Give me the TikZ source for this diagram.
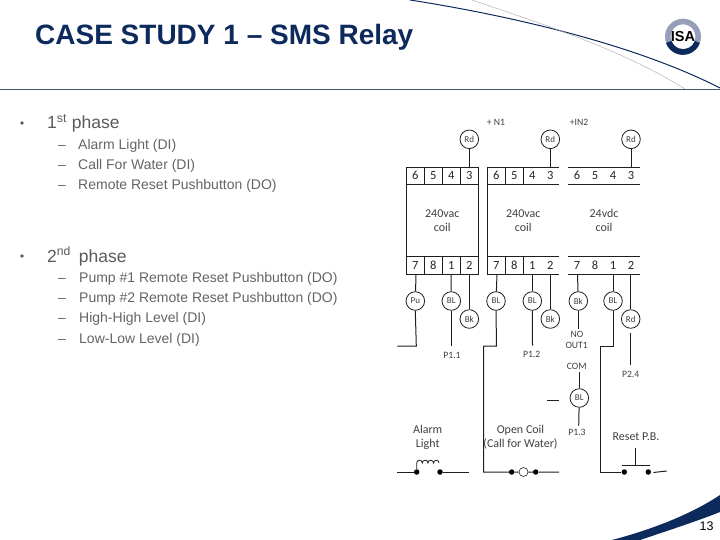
\documentclass[tikz,border=0pt]{standalone}
\usepackage{fontspec}
\setmainfont{Liberation Sans}
\newfontfamily\lab{Carlito}
\definecolor{navy}{RGB}{12,42,92}
\definecolor{rulec}{RGB}{70,85,105}
\definecolor{txt}{RGB}{90,90,90}
\definecolor{txtb}{RGB}{100,100,100}
\definecolor{wire}{RGB}{30,30,30}
\definecolor{ringc}{RGB}{150,158,185}
\tikzset{
 wirel/.style={draw=wire,line width=1pt},
 term/.style={circle,draw=wire,line width=0.8pt,minimum size=18.6pt,inner sep=0pt,font=\lab\fontsize{9}{9}\selectfont,text=black!75,fill=white},
 num/.style={font=\lab\fontsize{12.5}{13}\selectfont,inner sep=0pt,text=black!85,text height=8pt,text depth=0pt},
 small/.style={font=\lab\fontsize{9.7}{10}\selectfont,inner sep=0pt,text=black!75},
 big/.style={font=\lab\fontsize{12}{14}\selectfont,inner sep=0pt,text=black!75,align=center},
 dotn/.style={circle,fill=black,inner sep=0pt,minimum size=5.5pt},
 b1/.style={font=\fontsize{17.5}{20}\selectfont,inner sep=0pt,anchor=base west,text=txt},
 b2/.style={font=\fontsize{14}{16}\selectfont,inner sep=0pt,anchor=base west,text=txtb},
 bulletn/.style={circle,fill=txt,inner sep=0pt,minimum size=3.6pt},
}
\begin{document}
\begin{tikzpicture}[x=1pt,y=-1pt]
\useasboundingbox (0,0) rectangle (720,540);
% decoration
\draw[rulec,line width=0.9pt] (0,89.5) -- (720,89.5);
\draw[navy,line width=1pt] (410,0) .. controls (500,14) and (630,42) .. (720,88);
\draw[black!35,line width=0.4pt] (472,0) .. controls (530,20) and (620,48) .. (685,89);
\fill[navy] (612,540) .. controls (650,530) and (690,515) .. (720,495) -- (720,512) .. controls (700,520) and (670,530) .. (640,540) -- cycle;
% logo
\fill[ringc,even odd rule] (683,36.7) circle (18) (683,36.7) circle (12.5);
\fill[navy] (666,43) arc (160:20:18) -- (695,41) arc (20:160:12.5) -- cycle;
\node[font=\bfseries\fontsize{14.5}{14}\selectfont,inner sep=0pt] (isa) at (683,37) {ISA};
% title & text
\node[font=\bfseries\fontsize{28}{30}\selectfont,text=navy,inner sep=0pt,anchor=base west] (title) at (35,45) {CASE STUDY 1 – SMS Relay};
\node[bulletn] (bu1) at (22,123) {};
\node[b1] (p1) at (47,129) {1\textsuperscript{st} phase};
\node[b2] (a1) at (78,149.5) {Alarm Light (DI)};
\node[b2] (a2) at (78,169.5) {Call For Water (DI)};
\node[b2] (a3) at (78,189.5) {Remote Reset Pushbutton (DO)};
\foreach \y/\n in {149.5/x1,169.5/x2,189.5/x3,282.5/x4,302.5/x5,322.5/x6,343.5/x7}
  \node[b2] (\n) at (58,\y) {–};
\node[bulletn] (bu2) at (22,256) {};
\node[b1] (p2) at (47,262) {2\textsuperscript{nd}\, phase};
\node[b2] (c1) at (79,282.5) {Pump \#1 Remote Reset Pushbutton (DO)};
\node[b2] (c2) at (79,302.5) {Pump \#2 Remote Reset Pushbutton (DO)};
\node[b2] (c3) at (79,322.5) {High-High Level (DI)};
\node[b2] (c4) at (79,343.5) {Low-Low Level (DI)};
\node[font=\fontsize{12.5}{14}\selectfont,inner sep=0pt,text=black] (pg) at (706.5,526.5) {13};
% relay 1
\draw[wirel] (406.3,167.3) rectangle (478.3,274.3);
\draw[wirel] (406.3,185) -- (478.3,185) (406.3,256.3) -- (478.3,256.3);
\foreach \x in {424.3,442.3,460.3}{\draw[wirel] (\x,167.3) -- (\x,185) (\x,256.3) -- (\x,274.3);}
% relay 2
\draw[wirel] (558.5,167.3) -- (487.3,167.3) -- (487.3,274.3) -- (558.5,274.3);
\draw[wirel] (487.3,185) -- (558.5,185) (487.3,256.3) -- (558.5,256.3);
\foreach \x in {505.3,523.3}{\draw[wirel] (\x,167.3) -- (\x,185) (\x,256.3) -- (\x,274.3);}
% relay 3
\foreach \y in {167.3,185,256.3,274.3}{\draw[wirel] (568.3,\y) -- (640,\y);}
% numbers
\foreach \o/\k in {415.3/0,496.3/1,577/2}{
 \node[num] at (\o,176) {6}; \node[num] at (\o+18,176) {5}; \node[num] at (\o+36,176) {4}; \node[num] at (\o+54,176) {3};
 \node[num] at (\o,265) {7}; \node[num] at (\o+18,265) {8}; \node[num] at (\o+36,265) {1}; \node[num] at (\o+54,265) {2};
}
\node[big] (c1t) at (442.3,220.5) {240vac\\coil};
\node[big] (c2t) at (523.3,220.5) {240vac\\coil};
\node[big] (c3t) at (604,220.5) {24vdc\\coil};
\node[small] (n1) at (496,122) {+ N1};
\node[small] (n2) at (579,122) {+IN2};
% top terminals
\foreach \n/\x in {r1/469.3,r2/550.3,r3/631}{
 \node[term] (\n) at (\x,139.3) {Rd};
 \coordinate (\n t) at (\x,167.3);
 \draw[wirel] (\n) -- (\n t);
}
% bottom anchors
\coordinate (s11) at (416,274.3);\coordinate (s12) at (451,274.3);\coordinate (s13) at (469.3,274.3);
\coordinate (s21) at (497,274.3);\coordinate (s22) at (532.3,274.3);\coordinate (s23) at (550.3,274.3);
\coordinate (s31) at (577.5,274.3);\coordinate (s32) at (613,274.3);\coordinate (s33) at (630.7,274.3);
\node[term] (pu) at (415.3,301) {Pu};
\node[term] (bl1) at (451.3,301) {BL};
\node[term] (bk1) at (469.3,319) {Bk};
\node[term] (bl2) at (496,301) {BL};
\node[term] (bl3) at (532.3,301) {BL};
\node[term] (bk2) at (550.3,319) {Bk};
\node[term] (bk3) at (578.3,301) {Bk};
\node[term] (bl4) at (613,301) {BL};
\node[term] (rd4) at (630.7,319) {Rd};
\node[term] (bl5) at (579.3,398) {BL};
\foreach \a/\b in {s11/pu,s12/bl1,s13/bk1,s21/bl2,s22/bl3,s23/bk2,s31/bk3,s32/bl4,s33/rd4}
  \draw[wirel] (\a) -- (\b);
% labels
\node[small] (p11) at (452,355.7) {P1.1};
\node[small] (p12) at (531.7,354) {P1.2};
\node[small] (no) at (577,334.3) {NO};
\node[small] (out) at (576.7,345) {OUT1};
\node[small] (com) at (576.7,366.7) {COM};
\node[small] (p13) at (577,432) {P1.3};
\node[small] (p24) at (630.7,374) {P2.4};
\node[big] (al) at (427.7,437) {Alarm\\Light};
\node[big] (oc) at (520.5,437) {Open Coil\\(Call for Water)};
\node[big] (rs) at (636,437) {Reset P.B.};
% wires below
\coordinate (w1) at (397.3,346);\coordinate (w2) at (416.3,346);
\draw[wirel] (pu.south) -- (w2) -- (w1);
\draw[wirel] (bl1) -- (451.3,346);
\draw[wirel] (bl3) -- (532.5,345.7);
\draw[wirel] (bk3) -- (578.3,329);
\draw[wirel] (579.3,372) -- (bl5);
\draw[wirel] (bl5) -- (578.7,425.7);
\draw[wirel] (547,400) -- (559,400);
\draw[wirel] (630.7,332.7) -- (630.7,365);
% alarm
\node[dotn] (d1) at (416.7,472) {};
\node[dotn] (d2) at (440,472) {};
\draw[wirel] (397.3,472) -- (d1);
\draw[wirel] (d2) -- (469,472);
\draw[wirel,line width=0.8pt] (d1) -- (416.7,463) arc (180:360:2.8) arc (180:360:2.8) arc (180:360:2.8) arc (180:360:2.8);
% open coil
\node[dotn] (d3) at (511.7,472) {};
\node[dotn] (d4) at (535.7,472) {};
\node[circle,draw=wire,line width=0.6pt,minimum size=9pt,inner sep=0pt] (oc0) at (523.5,472) {};
\draw[wirel] (bl2.south) -- (496.5,346) -- (483.7,346) -- (483.7,472) -- (d3) -- (oc0) (oc0) -- (d4) -- (559,472);
% reset
\node[dotn] (d5) at (624.3,472) {};
\node[dotn] (d6) at (648.3,472) {};
\draw[wirel] (bl4.south) -- (613,346) -- (600.7,346) -- (600.7,472) -- (d5);
\draw[wirel] (d6) ++(5,0.5) -- (666.7,471);
\draw[wirel] (622,465.3) -- (650,465.3) (635.7,447.7) -- (635.7,465.3);
\end{tikzpicture}
\end{document}
